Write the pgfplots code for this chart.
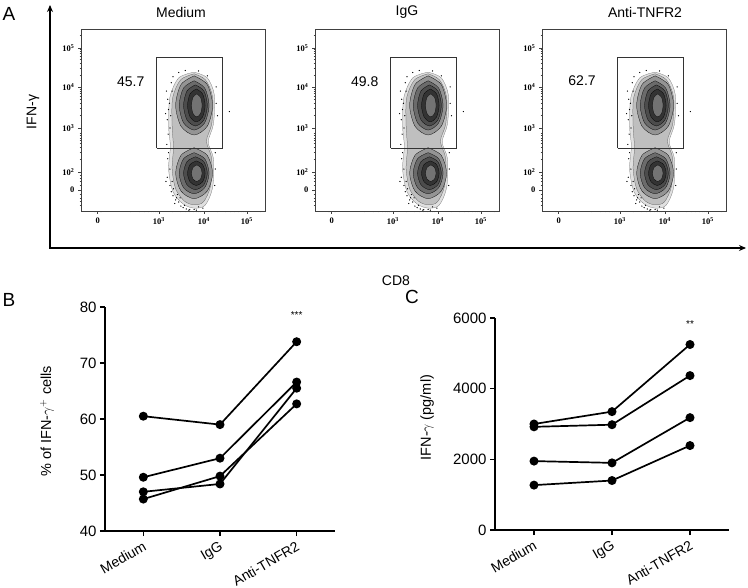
\documentclass[border=0pt]{standalone}
\usepackage{pgfplots}
\pgfplotsset{compat=1.18}
\usepackage{fontspec}
\setmainfont{Liberation Sans}
\newfontfamily\flfont{Liberation Serif}
\usetikzlibrary{arrows.meta}
\newcommand{\fl}[1]{10\textsuperscript{#1}}

\newcommand{\flowcontours}{%
\addplot[black!55, line width=0.25pt, fill=black!12, smooth] coordinates {(3.80,4.36) (4.10,4.22) (4.26,3.80) (4.24,3.10) (4.12,2.66) (4.24,2.25) (4.22,1.55) (4.05,1.12) (3.80,1.05) (3.55,1.15) (3.32,1.45) (3.22,2.00) (3.26,2.55) (3.22,3.05) (3.25,3.75) (3.45,4.22) (3.80,4.36)};
\addplot[black!65, line width=0.25pt, fill=black!25, smooth] coordinates {(3.80,4.32) (4.06,4.17) (4.22,3.75) (4.20,3.10) (4.08,2.68) (4.20,2.25) (4.17,1.58) (4.01,1.20) (3.80,1.13) (3.58,1.22) (3.38,1.52) (3.30,2.00) (3.33,2.52) (3.30,3.05) (3.31,3.72) (3.49,4.17) (3.80,4.32)};
% upper blob
\addplot[black, line width=0.25pt, fill=black!42, smooth] coordinates {(3.80,4.27) (4.097,4.059) (4.22,3.55) (4.097,3.041) (3.80,2.83) (3.503,3.041) (3.38,3.55) (3.503,4.059) (3.80,4.27)};
\addplot[black, line width=0.25pt, fill=black!58, smooth] coordinates {(3.80,4.15) (4.04,3.974) (4.14,3.55) (4.04,3.126) (3.80,2.95) (3.56,3.126) (3.46,3.55) (3.56,3.974) (3.80,4.15)};
\addplot[black, line width=0.25pt, fill=black!70, smooth] coordinates {(3.83,4.05) (4.021,3.904) (4.10,3.55) (4.021,3.196) (3.83,3.05) (3.639,3.196) (3.56,3.55) (3.639,3.904) (3.83,4.05)};
\addplot[black, line width=0.25pt, fill=black!80, smooth] coordinates {(3.85,3.95) (3.991,3.833) (4.05,3.55) (3.991,3.267) (3.85,3.15) (3.709,3.267) (3.65,3.55) (3.709,3.833) (3.85,3.95)};
\addplot[black, line width=0.25pt, fill=black!55, smooth] coordinates {(3.86,3.83) (3.945,3.748) (3.98,3.55) (3.945,3.352) (3.86,3.27) (3.775,3.352) (3.74,3.55) (3.775,3.748) (3.86,3.83)};
% lower blob
\addplot[black, line width=0.25pt, fill=black!42, smooth] coordinates {(3.80,2.52) (4.097,2.338) (4.22,1.90) (4.097,1.462) (3.80,1.28) (3.503,1.462) (3.38,1.90) (3.503,2.338) (3.80,2.52)};
\addplot[black, line width=0.25pt, fill=black!58, smooth] coordinates {(3.80,2.40) (4.04,2.254) (4.14,1.90) (4.04,1.546) (3.80,1.40) (3.56,1.546) (3.46,1.90) (3.56,2.254) (3.80,2.40)};
\addplot[black, line width=0.25pt, fill=black!70, smooth] coordinates {(3.83,2.30) (4.021,2.183) (4.10,1.90) (4.021,1.617) (3.83,1.50) (3.639,1.617) (3.56,1.90) (3.639,2.183) (3.83,2.30)};
\addplot[black, line width=0.25pt, fill=black!80, smooth] coordinates {(3.85,2.20) (3.991,2.112) (4.05,1.90) (3.991,1.688) (3.85,1.60) (3.709,1.688) (3.65,1.90) (3.709,2.112) (3.85,2.20)};
\addplot[black, line width=0.25pt, fill=black!55, smooth] coordinates {(3.86,2.10) (3.945,2.041) (3.98,1.90) (3.945,1.759) (3.86,1.70) (3.775,1.759) (3.74,1.90) (3.775,2.041) (3.86,2.10)};
% scattered events
\addplot[only marks, mark=*, mark size=0.35pt, black] coordinates {(3.28,4.1) (3.3,3.9) (3.2,3.7) (3.22,3.45) (3.19,3.2) (3.25,3.0) (3.32,4.25) (3.45,4.35) (3.6,4.4) (3.9,4.39) (4.1,4.27) (4.3,3.6) (4.33,3.3) (4.6,3.4) (3.25,2.0) (3.19,1.8) (3.25,1.6) (3.28,1.45) (3.32,1.35) (3.38,1.25) (3.45,1.2) (3.5,1.1) (3.55,1.06) (3.62,1.03) (3.7,1.01) (3.8,1.02) (3.9,1.08) (4.0,1.05) (3.2,2.25) (3.16,1.7) (3.36,1.16) (3.48,1.3) (3.58,1.12) (4.27,1.6) (4.28,2.0) (3.33,1.52) (3.42,1.38) (3.18,2.6) (3.21,2.85) (3.15,3.35) (3.17,3.9) (4.28,2.4) (4.3,4.0) (3.68,1.0) (3.85,1.0) (3.24,3.6) (3.27,3.3) (3.22,2.4) (3.3,1.7) (3.4,1.3)};
% gate
\addplot[black!80, line width=0.5pt] coordinates {(2.95,2.51) (4.45,2.51) (4.45,4.73) (2.95,4.73) (2.95,2.51)};
}

\pgfplotsset{
flow/.style={scale only axis, width=184pt, height=182pt,
 xmin=1.23, xmax=5.41, ymin=0.98, ymax=5.41,
 tick pos=left, tick align=outside,
 major tick length=3pt, minor tick length=1.5pt,
 axis line style={black!75, line width=0.5pt},
 every tick/.style={black!75, line width=0.5pt},
 xtick={1.61,3,4.02,5}, xticklabels={0,\fl{3},\fl{4},\fl{5}},
 ytick={1.49,1.93,3,4,4.95}, yticklabels={0,\fl{2},\fl{3},\fl{4},\fl{5}},
 minor xtick={1.52,1.56,1.66,1.70,2.35,2.55,2.66,2.75,2.82,2.88,2.92,2.96,3.30,3.48,3.60,3.70,3.78,3.85,3.90,3.95,4.32,4.50,4.62,4.72,4.80,4.86,4.92,4.96,5.30},
 minor ytick={1.12,1.22,1.30,1.38,1.60,1.70,1.78,1.85,2.23,2.41,2.53,2.62,2.70,2.76,2.82,2.87,3.30,3.48,3.60,3.70,3.78,3.85,3.90,3.95,4.29,4.46,4.58,4.67,4.75,4.81,4.86,4.91,5.25},
 tick label style={font=\flfont\bfseries\fontsize{8.5}{10}\selectfont},
},
dot/.style={scale only axis, clip=false,
 axis x line*=bottom, axis y line*=left,
 axis line style={line width=1.6pt},
 every tick/.style={black, line width=1.6pt},
 tick align=outside, major tick length=5pt,
 xmin=-0.5, xmax=2.5, xtick={0,1,2},
 xticklabels={Medium,IgG,Anti-TNFR2},
 xticklabel style={rotate=30, anchor=north east, font=\fontsize{14}{16}\selectfont},
 yticklabel style={font=\fontsize{15}{17}\selectfont},
 /pgf/number format/assume math mode=true,
 /pgf/number format/1000 sep={},
},
ser/.style={black, line width=1.7pt, mark=*, mark size=3.6pt, mark options={solid, fill=black}},
}

\begin{document}
\begin{tikzpicture}[x=1pt,y=1pt]
\path[use as bounding box] (0pt,0pt) rectangle (748pt,-588pt);

% Panel A
\begin{axis}[flow, at={(81pt,-211pt)}, anchor=south west]
\flowcontours
\node[font=\fontsize{14}{16}\selectfont] at (axis cs:2.36,4.12) {45.7};
\end{axis}
\begin{axis}[flow, at={(315pt,-211pt)}, anchor=south west]
\flowcontours
\node[font=\fontsize{14}{16}\selectfont] at (axis cs:2.36,4.12) {49.8};
\end{axis}
\begin{axis}[flow, at={(542pt,-211pt)}, anchor=south west]
\flowcontours
\node[font=\fontsize{14}{16}\selectfont] at (axis cs:2.14,4.15) {62.7};
\end{axis}

\draw[line width=1.5pt, -{Stealth[length=7pt,width=6pt]}] (50pt,-248pt) -- (50pt,-5pt);
\draw[line width=1.5pt, -{Stealth[length=7pt,width=6pt]}] (49.25pt,-248pt) -- (746pt,-248pt);

\node[font=\fontsize{19}{20}\selectfont] at (9pt,-14pt) {A};
\node[font=\fontsize{14}{16}\selectfont] at (181pt,-12pt) {Medium};
\node[font=\fontsize{14}{16}\selectfont] at (407pt,-12pt) {IgG};
\node[font=\fontsize{14}{16}\selectfont] at (645pt,-12pt) {Anti-TNFR2};
\node[rotate=90, font=\fontsize{14}{16}\selectfont] at (33pt,-112pt) {IFN-γ};
\node[font=\fontsize{14}{16}\selectfont] at (396pt,-281pt) {CD8};

% Panel B
\node[font=\fontsize{19}{20}\selectfont] at (9pt,-300pt) {B};
\begin{axis}[dot, at={(105pt,-531pt)}, anchor=south west, width=230pt, height=224pt,
  ymin=40, ymax=80, ytick={40,50,60,70,80},
  ylabel={\% of IFN-$\gamma^{+}$ cells},
  y label style={at={(axis description cs:-0.252,0.49)}, anchor=center, font=\fontsize{14.5}{16}\selectfont}]
\addplot[ser] coordinates {(0,60.5) (1,59.0) (2,73.8)};
\addplot[ser] coordinates {(0,49.6) (1,53.0) (2,66.6)};
\addplot[ser] coordinates {(0,47.0) (1,48.4) (2,65.5)};
\addplot[ser] coordinates {(0,45.7) (1,49.8) (2,62.7)};
\node[font=\fontsize{10}{10}\selectfont] at (axis cs:2,78.6) {***};
\end{axis}

% Panel C
\node[font=\fontsize{19}{20}\selectfont] at (412pt,-297pt) {C};
\begin{axis}[dot, at={(495pt,-530pt)}, anchor=south west, width=234pt, height=212pt,
  ymin=0, ymax=6000, ytick={0,2000,4000,6000},
  ylabel={IFN-$\gamma$ (pg/ml)},
  y label style={at={(axis description cs:-0.29,0.53)}, anchor=center, font=\fontsize{14.5}{16}\selectfont}]
\addplot[ser] coordinates {(0,3000) (1,3350) (2,5250)};
\addplot[ser] coordinates {(0,2920) (1,2980) (2,4370)};
\addplot[ser] coordinates {(0,1950) (1,1900) (2,3180)};
\addplot[ser] coordinates {(0,1270) (1,1400) (2,2390)};
\node[font=\fontsize{10}{10}\selectfont] at (axis cs:2,5820) {**};
\end{axis}
\end{tikzpicture}
\end{document}
